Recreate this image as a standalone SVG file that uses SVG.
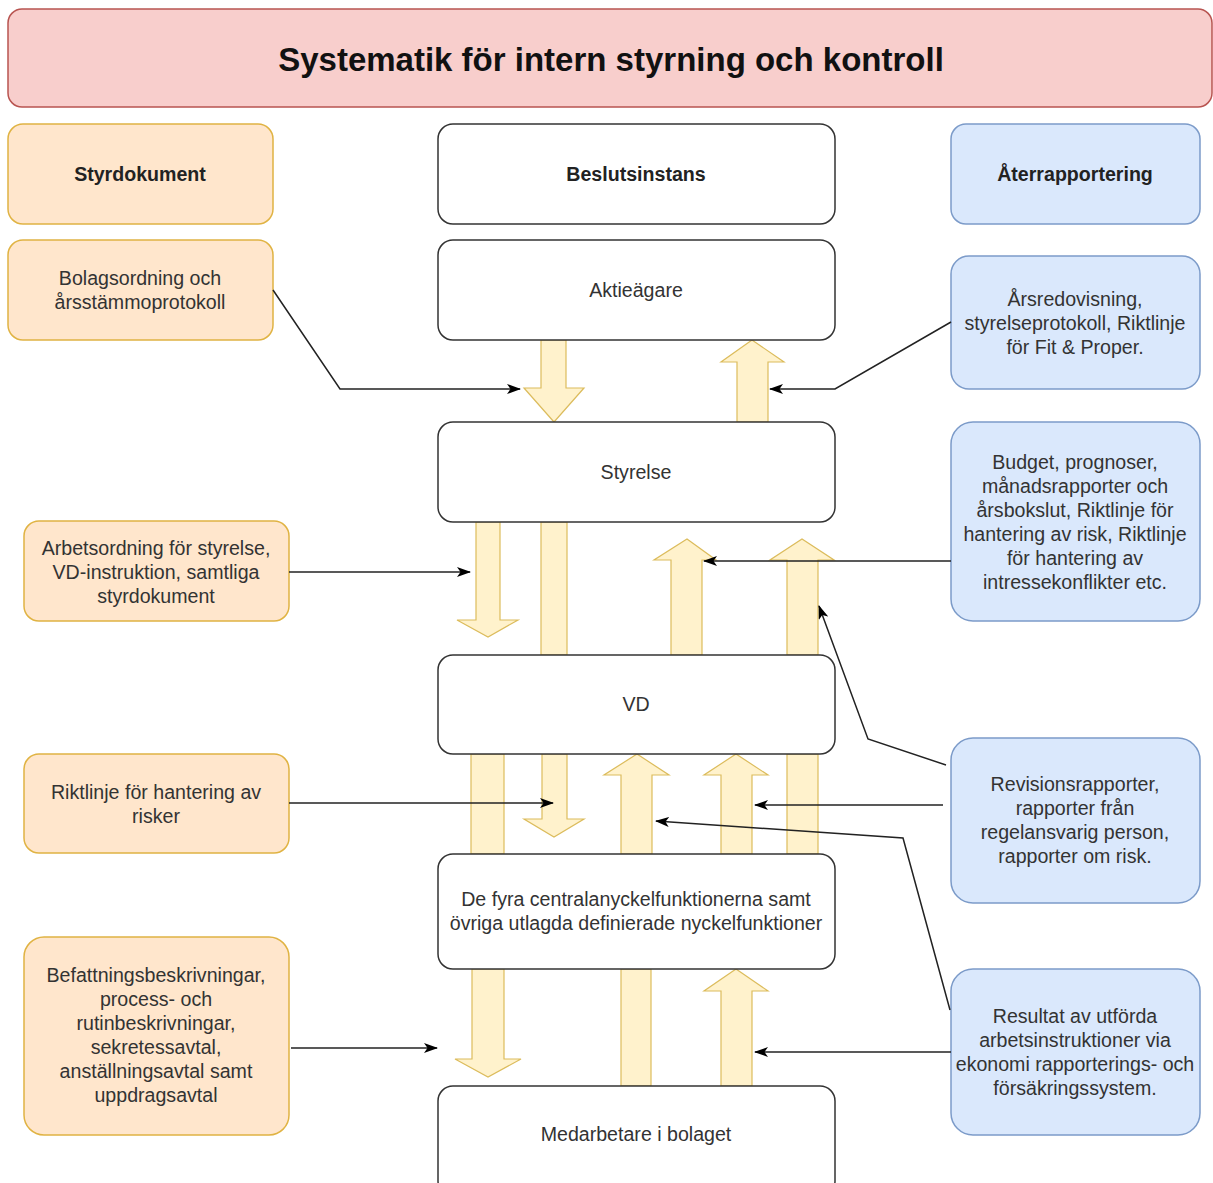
<svg xmlns="http://www.w3.org/2000/svg" width="1213" height="1183" viewBox="0 0 1213 1183">
<defs>
<marker id="ah" viewBox="0 0 14 10" refX="13" refY="5" markerWidth="14" markerHeight="10" markerUnits="userSpaceOnUse" orient="auto">
<path d="M0,0 L14,5 L0,10 L3.5,5 Z" fill="#000"/>
</marker>
<style>
text{font-family:"Liberation Sans",Arial,sans-serif;font-size:19.6px;fill:#333;text-anchor:middle}
.b{font-weight:bold;fill:#222}
.title{font-size:33px;font-weight:bold;fill:#111}
.red{fill:#f8cecc;stroke:#b85450;stroke-width:1.5}
.org{fill:#ffe6cc;stroke:#e0b343;stroke-width:1.5}
.blu{fill:#dae8fc;stroke:#7c9bc9;stroke-width:1.5}
.wht{fill:#fff;stroke:#333;stroke-width:1.5}
.ba{fill:#fff2cc;stroke:#dcbc5c;stroke-width:1.2}
.con{fill:none;stroke:#222;stroke-width:1.5;marker-end:url(#ah)}
</style>
</defs>
<rect width="1213" height="1183" fill="#fff"/>

<g id="title"><rect class="red" x="8" y="9" width="1204" height="98" rx="14"/><text class="title" x="611" y="71">Systematik för intern styrning och kontroll</text></g>

<g id="blockarrows">
<path class="ba" d="M541,340 L566,340 L566,388 L584,388 L554,422 L524,388 L541,388 Z"/>
<path class="ba" d="M737,422 L768,422 L768,362 L784,362 L752,340 L721,362 L737,362 Z"/>
<path class="ba" d="M476,522 L500,522 L500,620 L518,620 L488,637 L457,620 L476,620 Z"/>
<rect class="ba" x="541" y="522" width="26" height="133"/>
<path class="ba" d="M671,655 L702,655 L702,560 L716,560 L687,539 L654,560 L671,560 Z"/>
<path class="ba" d="M787,655 L818,655 L818,560 L834,560 L802,539 L770,560 L787,560 Z"/>
<rect class="ba" x="471" y="754" width="33" height="100"/>
<path class="ba" d="M542,754 L567,754 L567,819 L584,819 L554,837 L524,819 L542,819 Z"/>
<path class="ba" d="M621,854 L652,854 L652,775 L669,775 L637,754 L604,775 L621,775 Z"/>
<path class="ba" d="M721,854 L752,854 L752,775 L768,775 L736,754 L704,775 L721,775 Z"/>
<rect class="ba" x="787" y="754" width="31" height="100"/>
<path class="ba" d="M472,969 L504,969 L504,1059 L521,1059 L488,1077 L455,1059 L472,1059 Z"/>
<rect class="ba" x="621" y="969" width="30" height="117"/>
<path class="ba" d="M721,1086 L752,1086 L752,991 L768,991 L736,969 L704,991 L721,991 Z"/>
</g>

<g id="col-left">
<g id="styrdokument"><rect class="org" x="8" y="124" width="265" height="100" rx="15"/><text class="b" x="140" y="181">Styrdokument</text></g>
<g id="bolagsordning"><rect class="org" x="8" y="240" width="265" height="100" rx="15"/><text x="140" y="285">Bolagsordning och</text><text x="140" y="309">årsstämmoprotokoll</text></g>
<g id="arbetsordning"><rect class="org" x="24" y="521" width="265" height="100" rx="15"/><text x="156" y="555">Arbetsordning för styrelse,</text><text x="156" y="579">VD-instruktion, samtliga</text><text x="156" y="603">styrdokument</text></g>
<g id="riktlinje-risker"><rect class="org" x="24" y="754" width="265" height="99" rx="15"/><text x="156" y="799">Riktlinje för hantering av</text><text x="156" y="823">risker</text></g>
<g id="befattning"><rect class="org" x="24" y="937" width="265" height="198" rx="20"/><text x="156" y="982">Befattningsbeskrivningar,</text><text x="156" y="1006">process- och</text><text x="156" y="1030">rutinbeskrivningar,</text><text x="156" y="1054">sekretessavtal,</text><text x="156" y="1078">anställningsavtal samt</text><text x="156" y="1102">uppdragsavtal</text></g>
</g>

<g id="col-mid">
<g id="beslutsinstans"><rect class="wht" x="438" y="124" width="397" height="100" rx="15"/><text class="b" x="636" y="181">Beslutsinstans</text></g>
<g id="aktieagare"><rect class="wht" x="438" y="240" width="397" height="100" rx="15"/><text x="636" y="297">Aktieägare</text></g>
<g id="styrelse"><rect class="wht" x="438" y="422" width="397" height="100" rx="15"/><text x="636" y="479">Styrelse</text></g>
<g id="vd"><rect class="wht" x="438" y="655" width="397" height="99" rx="15"/><text x="636" y="711">VD</text></g>
<g id="defyra"><rect class="wht" x="438" y="854" width="397" height="115" rx="15"/><text x="636" y="906">De fyra centralanyckelfunktionerna samt</text><text x="636" y="930">övriga utlagda definierade nyckelfunktioner</text></g>
<g id="medarbetare"><rect class="wht" x="438" y="1086" width="397" height="110" rx="15"/><text x="636" y="1141">Medarbetare i bolaget</text></g>
</g>

<g id="col-right">
<g id="aterrapportering"><rect class="blu" x="951" y="124" width="249" height="100" rx="15"/><text class="b" x="1075" y="181">Återrapportering</text></g>
<g id="arsredovisning"><rect class="blu" x="951" y="256" width="249" height="133" rx="18"/><text x="1075" y="306">Årsredovisning,</text><text x="1075" y="330">styrelseprotokoll, Riktlinje</text><text x="1075" y="354">för Fit &amp; Proper.</text></g>
<g id="budget"><rect class="blu" x="951" y="422" width="249" height="199" rx="22"/><text x="1075" y="469">Budget, prognoser,</text><text x="1075" y="493">månadsrapporter och</text><text x="1075" y="517">årsbokslut, Riktlinje för</text><text x="1075" y="541">hantering av risk, Riktlinje</text><text x="1075" y="565">för hantering av</text><text x="1075" y="589">intressekonflikter etc.</text></g>
<g id="revision"><rect class="blu" x="951" y="738" width="249" height="165" rx="22"/><text x="1075" y="791">Revisionsrapporter,</text><text x="1075" y="815">rapporter från</text><text x="1075" y="839">regelansvarig person,</text><text x="1075" y="863">rapporter om risk.</text></g>
<g id="resultat"><rect class="blu" x="951" y="969" width="249" height="166" rx="22"/><text x="1075" y="1023">Resultat av utförda</text><text x="1075" y="1047">arbetsinstruktioner via</text><text x="1075" y="1071">ekonomi rapporterings- och</text><text x="1075" y="1095">försäkringssystem.</text></g>
</g>

<g id="connectors">
<path class="con" d="M273,290 L340,389 L520,389"/>
<path class="con" d="M951,322 L835,389 L770,389"/>
<path class="con" d="M289,572 L470,572"/>
<path class="con" d="M951,561 L704,561"/>
<path class="con" d="M946,765 L868,739 L819,606"/>
<path class="con" d="M289,803 L553,803"/>
<path class="con" d="M943,805 L755,805"/>
<path class="con" d="M950,1010 L903,838 L656,821"/>
<path class="con" d="M291,1048 L437,1048"/>
<path class="con" d="M951,1052 L755,1052"/>
</g>
</svg>
